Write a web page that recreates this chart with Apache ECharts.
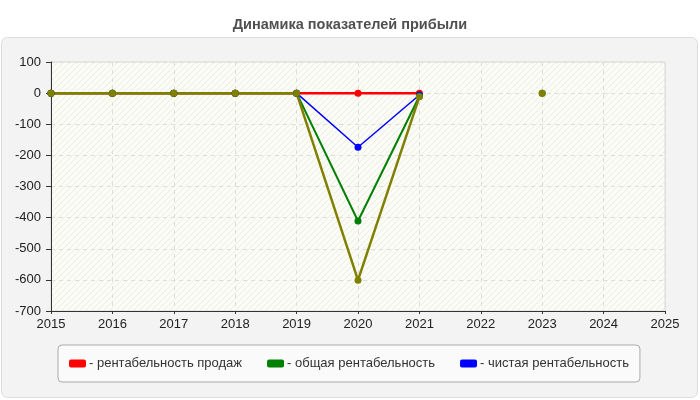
<!DOCTYPE html>
<html>
<head>
<meta charset="utf-8">
<script src="https://cdn.jsdelivr.net/npm/echarts@6/dist/echarts.min.js"></script>
<style>
html, body { margin: 0; padding: 0; background: #fff; }
#chart { width: 700px; height: 400px; }
</style>
</head>
<body>
<div id="chart"></div>
<script>
// Динамика показателей прибыли
var years = [2015, 2016, 2017, 2018, 2019, 2020, 2021, 2022, 2023];
var salesProfit = [0, 0, 0, 0, 0, 0, 0, null, null];
var netProfit = [0, 0, 0, 0, 0, -174, -6, null, null];
var totalProfit = [0, 0, 0, 0, 0, -411, -10, null, 0];
var otherProfit = [0, 0, 0, 0, 0, -601, -12, null, 0];

function pairs(vals) {
	return years.map(function (y, i) {
		return [y, vals[i] === null ? '-' : vals[i]];
	});
}

// штриховка фона
var hatch = document.createElement('canvas');
hatch.width = 6;
hatch.height = 6;
var hc = hatch.getContext('2d');
hc.fillStyle = '#fcfcf6';
hc.fillRect(0, 0, 6, 6);
hc.strokeStyle = '#ececE4';
hc.lineWidth = 1;
hc.beginPath();
hc.moveTo(0, 6);
hc.lineTo(6, 0);
hc.moveTo(-3, 3);
hc.lineTo(3, -3);
hc.moveTo(3, 9);
hc.lineTo(9, 3);
hc.stroke();

var myChart = echarts.init(document.getElementById('chart'));
var option = {
	backgroundColor: '#fff',
	animation: false,
	textStyle: { fontFamily: 'Arial, "Liberation Sans", sans-serif' },
	title: {
		text: 'Динамика показателей прибыли',
		left: 'center',
		top: 12,
		textStyle: { fontSize: 14.5, fontWeight: 'bold', color: '#505050' }
	},
	graphic: [{
		type: 'rect',
		z: -10,
		shape: { x: 1.5, y: 37.5, width: 696, height: 360, r: 6 },
		style: { fill: '#f3f3f3', stroke: '#dcdcdc', lineWidth: 1 }
	}],
	legend: {
		data: ['- рентабельность продаж', '- общая рентабельность', '- чистая рентабельность'],
		left: 58,
		top: 345,
		padding: [12, 11, 12, 11],
		itemGap: 25,
		itemWidth: 17,
		itemHeight: 8,
		icon: 'roundRect',
		backgroundColor: '#fafafa',
		borderColor: '#aaa',
		borderWidth: 1,
		borderRadius: 4,
		textStyle: { color: '#333', fontSize: 13, padding: [0, 0, 0, -2] }
	},
	grid: {
		left: 51,
		right: 35,
		top: 62,
		bottom: 89,
		show: true,
		backgroundColor: { image: hatch, repeat: 'repeat' },
		borderColor: '#d8d8d8',
		borderWidth: 1
	},
	xAxis: {
		type: 'value',
		min: 2015,
		max: 2025,
		interval: 1,
		axisLine: { onZero: false, lineStyle: { color: '#333' } },
		axisTick: { length: 3, lineStyle: { color: '#333' } },
		axisLabel: { color: '#222', fontSize: 13, margin: 7, formatter: function (v) { return String(v); } },
		splitLine: { lineStyle: { color: '#ddd', type: [4, 4] } }
	},
	yAxis: {
		type: 'value',
		min: -700,
		max: 100,
		interval: 100,
		axisLine: { show: true, lineStyle: { color: '#333' } },
		axisTick: { show: true, length: 5, lineStyle: { color: '#333' } },
		axisLabel: { color: '#222', fontSize: 13, margin: 10 },
		splitLine: { lineStyle: { color: '#ddd', type: [4, 4] } }
	},
	series: [{
		name: '- рентабельность продаж',
		type: 'line',
		data: pairs(salesProfit),
		color: '#ff0000',
		symbol: 'circle',
		symbolSize: 7,
		lineStyle: { width: 2.5 }
	}, {
		name: '- чистая рентабельность',
		type: 'line',
		data: pairs(netProfit),
		color: '#0000ff',
		symbol: 'circle',
		symbolSize: 7,
		lineStyle: { width: 1.5 }
	}, {
		name: '- общая рентабельность',
		type: 'line',
		data: pairs(totalProfit),
		color: '#008000',
		symbol: 'circle',
		symbolSize: 7,
		lineStyle: { width: 2 }
	}, {
		name: 'прочее',
		type: 'line',
		data: pairs(otherProfit),
		color: '#808000',
		symbol: 'circle',
		symbolSize: 7,
		lineStyle: { width: 2.5 }
	}]
};
myChart.setOption(option);
</script>
</body>
</html>
